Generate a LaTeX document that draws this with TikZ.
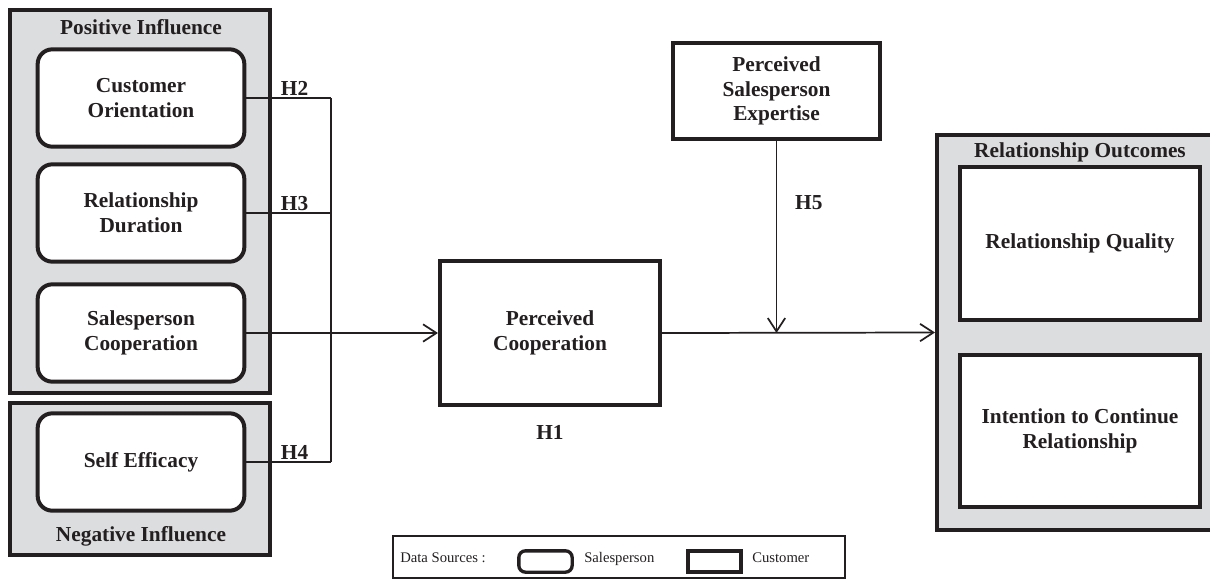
\documentclass[tikz,border=0pt]{standalone}
\usepackage{fontspec}
\setmainfont{Liberation Serif}
\usetikzlibrary{arrows.meta}
\definecolor{panelgray}{RGB}{220,221,223}
\definecolor{inkcol}{RGB}{35,31,32}

\begin{document}
\begin{tikzpicture}[x=0.75pt,y=0.75pt,yscale=-1,xscale=1,
  every node/.style={font=\bfseries\fontsize{16}{18.5}\selectfont, text=inkcol},
  panel/.style={draw=inkcol, fill=panelgray, line width=3pt, inner sep=0pt},
  salesbox/.style={draw=inkcol, fill=white, line width=3pt, rounded corners=11pt, minimum width=155pt, minimum height=73pt, align=center},
  custbox/.style={draw=inkcol, fill=white, line width=3pt, align=center},
  link/.style={draw=inkcol, line width=1.3pt},
  tip/.style={-{Straight Barb[length=10pt,width=13pt,line width=1.3pt]}},
  hlabel/.style={inner sep=1pt},
  legtext/.style={font=\fontsize{11}{13}\selectfont, anchor=base west, inner sep=0pt}
]
\useasboundingbox (0,0) rectangle (1210,579);

%Shape: Panels
\node (posinf) [panel, minimum width=195pt, minimum height=287.25pt] at (140,201.5) {};
\node (neginf) [panel, minimum width=195pt, minimum height=114pt] at (140,479) {};
\node (outcomes) [panel, minimum width=214.5pt, minimum height=296.25pt] at (1080,332.5) {};

% Text Node
\node (postitle) at (141,27) {Positive Influence};
\node (negtitle) at (141,536) {Negative Influence};
\node (outtitle) at (1080,152) {Relationship Outcomes};

%Shape: Salesperson boxes
\node (co) [salesbox] at (141,98) {Customer\\Orientation};
\node (rd) [salesbox] at (141,213) {Relationship\\Duration};
\node (sc) [salesbox] at (141,333) {Salesperson\\Cooperation};
\node (se) [salesbox] at (141,462) {Self Efficacy};

%Shape: Customer boxes
\node (pc) [custbox, minimum width=165pt, minimum height=108pt] at (550,333) {Perceived\\Cooperation};
\node (pse) [custbox, minimum width=155pt, minimum height=72pt] at (776.5,91) {Perceived\\Salesperson\\Expertise};
\node (rq) [custbox, minimum width=180pt, minimum height=114.75pt] at (1080,243.5) {Relationship Quality};
\node (icr) [custbox, minimum width=180pt, minimum height=114pt] at (1080,431) {Intention to Continue\\Relationship};

%Straight Lines
\coordinate (bus) at (331,0);
\draw[link] (co.east) -- node[above, pos=0.57, hlabel] {H2} (co.east -| bus);
\draw[link] (rd.east) -- node[above, pos=0.57, hlabel] {H3} (rd.east -| bus);
\draw[link] (se.east) -- node[above, pos=0.57, hlabel] {H4} (se.east -| bus);
\draw[link] (co.east -| bus) -- (se.east -| bus);
\draw[link, tip] (sc.east) -- (pc.west);
\draw[link, tip] (pc.east) -- (outcomes.west);
\draw[link, tip] (pse.south) -- node[right, pos=0.32, xshift=10pt] {H5} (pse.south |- pc.east);

% Text Node
\node (h1) at (550,432) {H1};

%Shape: Legend
\node (legend) [draw=inkcol, line width=1.2pt, minimum width=339pt, minimum height=31.5pt, inner sep=0pt] at (619,557) {};
\node (dslabel) [legtext] at (400,562) {Data Sources :};
\node (legsales) [draw=inkcol, line width=2.5pt, rounded corners=5pt, minimum width=40pt, minimum height=16pt, inner sep=0pt] at (545.5,561.5) {};
\node (salestext) [legtext] at (584,562) {Salesperson};
\node (legcust) [draw=inkcol, line width=3pt, minimum width=40pt, minimum height=16pt, inner sep=0pt] at (714.5,561.5) {};
\node (custtext) [legtext] at (752,562) {Customer};

\end{tikzpicture}
\end{document}
